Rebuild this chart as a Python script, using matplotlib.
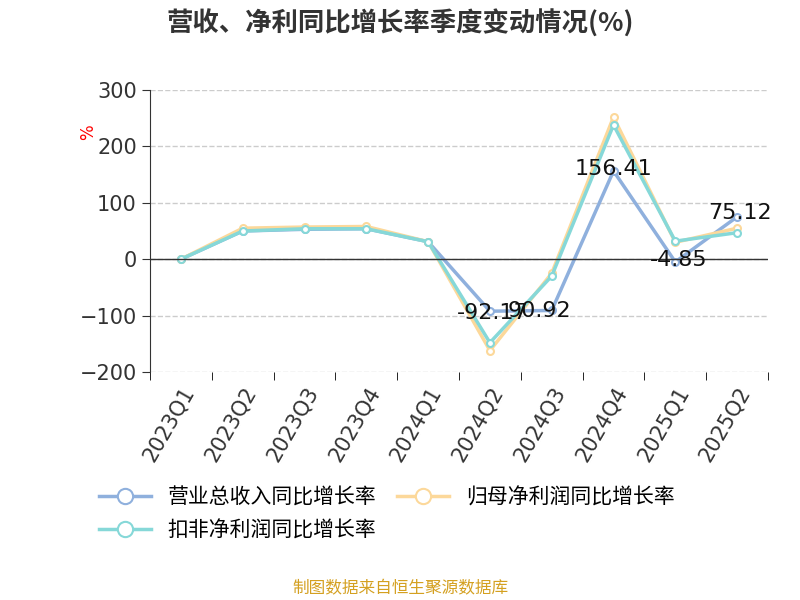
import matplotlib.pyplot as plt

plt.rcParams['font.family'] = ['DejaVu Sans', 'Noto Sans CJK SC']

quarters = ['2023Q1', '2023Q2', '2023Q3', '2023Q4', '2024Q1', '2024Q2',
            '2024Q3', '2024Q4', '2025Q1', '2025Q2']
revenue = [0, 50, 53, 54, 31, -92.17, -90.92, 156.41, -4.85, 75.12]
net_profit = [0, 55, 57, 58, 31, -162, -25, 252, 30, 55]
net_profit_ex = [0, 50, 54, 54, 31, -148, -30, 238, 32, 47]
labelled = {5: '-92.17', 6: '90.92', 7: '156.41', 8: '-4.85', 9: '75.12'}

fig = plt.figure(figsize=(8, 6), dpi=100)
ax = fig.add_axes([0.1875, 0.38, 0.7725, 0.47])
x = range(len(quarters))

series = [
    (revenue, '#8fb0dd', '营业总收入同比增长率'),
    (net_profit, '#fcd89a', '归母净利润同比增长率'),
    (net_profit_ex, '#86d8d8', '扣非净利润同比增长率'),
]
handles = []
for vals, color, name in series:
    h, = ax.plot(x, vals, color=color, lw=2.5, marker='o', ms=5,
                 markerfacecolor='white', markeredgecolor=color, markeredgewidth=1.5,
                 label=name)
    handles.append(h)

offsets = {5: (0.05, -95), 6: (-0.2, -92), 7: (0, 160), 8: (0.05, -2), 9: (0.05, 82)}
for i, txt in labelled.items():
    dx, y = offsets[i]
    ax.text(i + dx, y, txt, ha='center', va='center', fontsize=16, color='#111111')

ax.set_xlim(-0.5, len(quarters) - 0.5)
ax.set_ylim(-200, 300)
ax.set_yticks([-200, -100, 0, 100, 200, 300])
ax.tick_params(axis='y', labelsize=15, colors='#333333', length=6)
ax.set_xticks(x)
ax.set_xticklabels(quarters, rotation=60, ha='right', rotation_mode='anchor',
                   fontsize=15, color='#333333')
ax.set_xticks([i - 0.5 for i in range(len(quarters) + 1)], minor=True)
ax.tick_params(axis='x', which='major', length=0, pad=8)
ax.tick_params(axis='x', which='minor', length=6)
ax.grid(axis='y', linestyle='--', color='#cccccc', lw=1)
for s in ['top', 'right', 'bottom']:
    ax.spines[s].set_visible(False)
ax.axhline(0, color='#333333', lw=1)
ax.spines['left'].set_color('#333333')

fig.text(0.11, 0.78, '%', color='red', rotation=90, fontsize=12, ha='center', va='center')
fig.text(0.5, 0.96, '营收、净利同比增长率季度变动情况(%)', ha='center', va='center',
         fontsize=19, fontweight='bold', color='#333333',
         family=['Noto Sans CJK SC', 'DejaVu Sans'])

order = [handles[0], handles[2], handles[1]]
fig.legend(order, [h.get_label() for h in order], loc='upper left',
           bbox_to_anchor=(0.1, 0.22), ncol=2, frameon=False,
           prop={'family': ['Noto Sans CJK SC'], 'size': 15},
           handlelength=2.5, columnspacing=1.0, markerscale=2.2)
fig.text(0.5, 0.018, '制图数据来自恒生聚源数据库', ha='center', va='center',
         fontsize=12, color='#d4a020', family=['Noto Sans CJK SC'])

fig.savefig('out.png')
